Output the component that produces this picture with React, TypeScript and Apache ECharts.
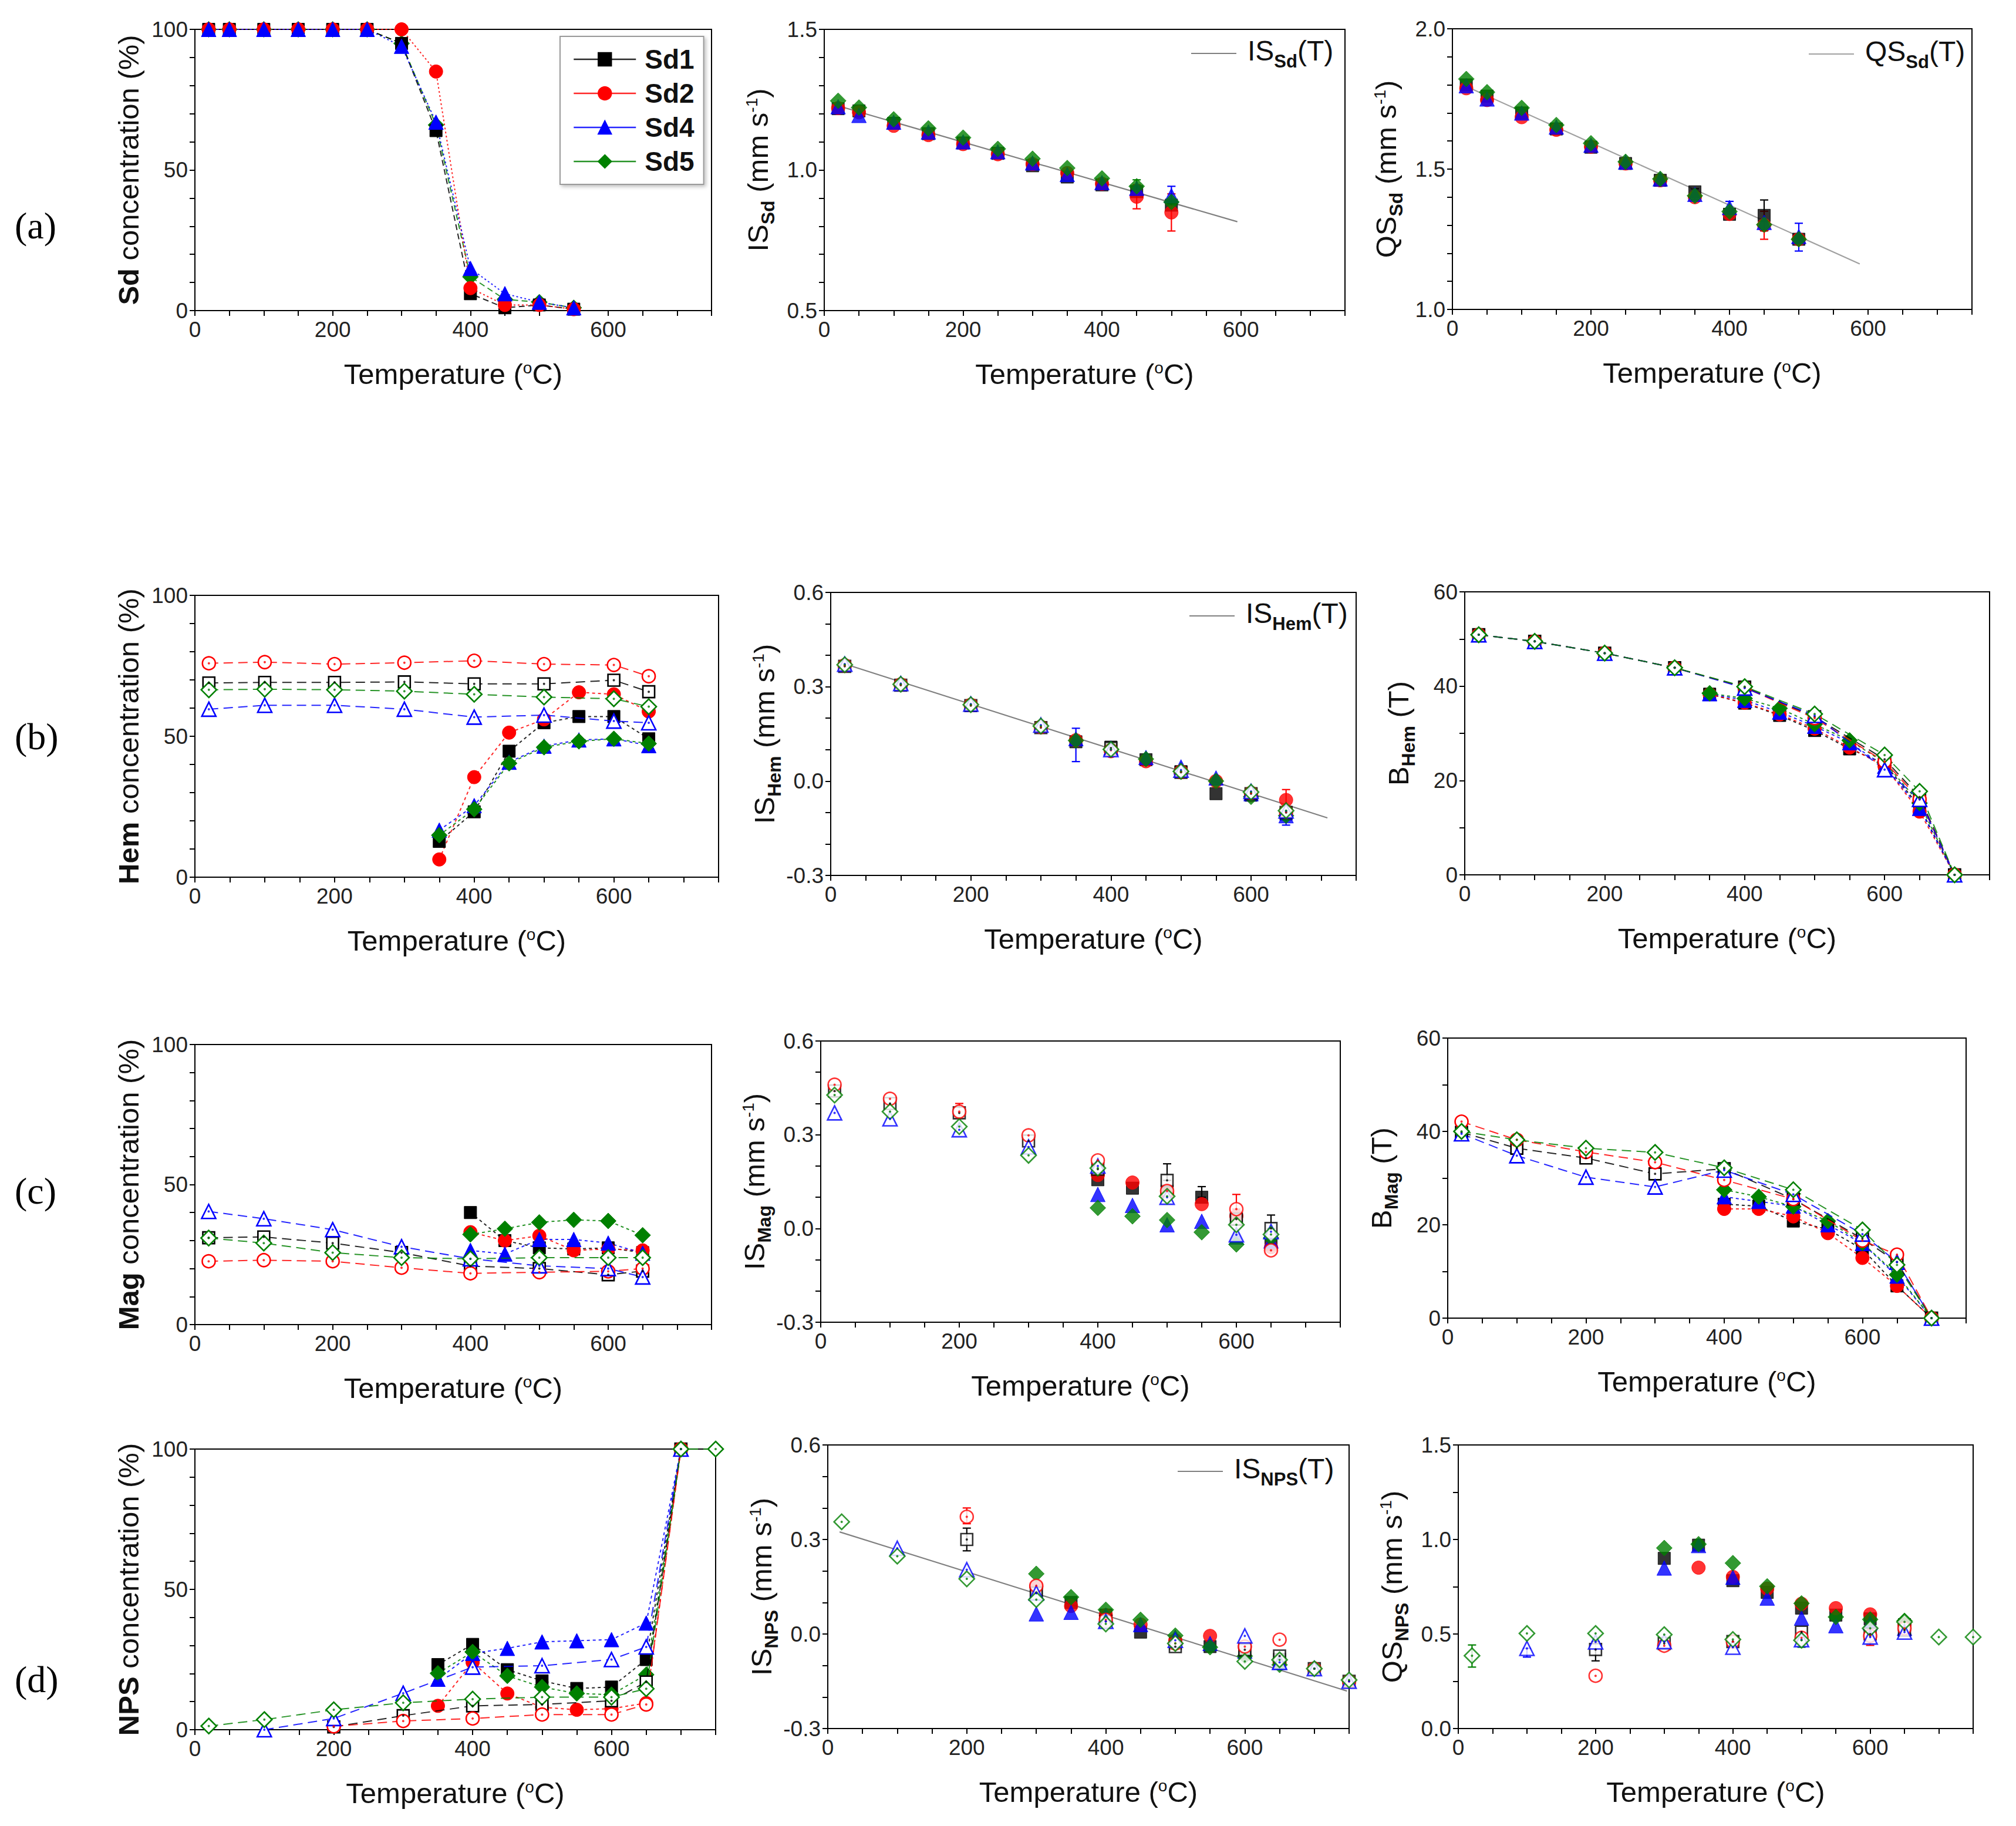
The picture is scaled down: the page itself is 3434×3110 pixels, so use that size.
import React, { useEffect, useRef } from 'react';
import * as echarts from 'echarts';

const FONT = "'Liberation Sans', Arial, Helvetica, sans-serif";
const SERIF = "'Liberation Serif', 'Times New Roman', serif";
const TXT = '#111111';

// ---------------- DATA ----------------
const SAMPLES = ['Sd1', 'Sd2', 'Sd4', 'Sd5'];

// (a) siderite
const T_A = [20, 50, 100, 150, 200, 250, 300, 350, 400, 450, 500, 550];
const T_A_MS = [20, 50, 100, 150, 200, 250, 300, 350, 400, 450, 500];
const SD_CONC_SD1 = [100, 100, 100, 100, 100, 100, 95, 64, 6, 1, 2, 0.5];
const SD_CONC_SD2 = [100, 100, 100, 100, 100, 100, 100, 85, 8, 2, 2, 0.5];
const SD_CONC_SD4 = [100, 100, 100, 100, 100, 100, 94, 67, 15, 6, 3, 1];
const SD_CONC_SD5 = [100, 100, 100, 100, 100, 100, 95, 66, 12, 4, 3, 1];

const IS_SD_SD1 = [1.218, 1.21, 1.166, 1.129, 1.096, 1.059, 1.015, 0.975, 0.947, 0.923, 0.875];
const IS_SD_SD2 = [1.22, 1.205, 1.157, 1.124, 1.092, 1.056, 1.021, 0.989, 0.951, 0.905, 0.849];
const IS_SD_SD4 = [1.225, 1.194, 1.17, 1.135, 1.1, 1.065, 1.025, 0.984, 0.955, 0.935, 0.909];
const IS_SD_SD5 = [1.246, 1.222, 1.18, 1.148, 1.115, 1.075, 1.04, 1.007, 0.97, 0.942, 0.886];
const IS_SD_FIT_T = [20, 595];
const IS_SD_FIT = [1.228, 0.816];
// error bars: [T, low, high, sample]
const IS_SD_ERR = [[450, 0.862, 0.948, 1], [500, 0.783, 0.915, 1], [500, 0.88, 0.942, 2], [450, 0.92, 0.965, 3]];

const QS_SD_SD1 = [1.8, 1.76, 1.7, 1.643, 1.578, 1.52, 1.46, 1.419, 1.339, 1.335, 1.25];
const QS_SD_SD2 = [1.788, 1.746, 1.685, 1.64, 1.58, 1.52, 1.46, 1.4, 1.34, 1.3, 1.25];
const QS_SD_SD4 = [1.797, 1.75, 1.7, 1.65, 1.585, 1.525, 1.465, 1.41, 1.363, 1.31, 1.26];
const QS_SD_SD5 = [1.821, 1.774, 1.718, 1.657, 1.592, 1.526, 1.465, 1.405, 1.349, 1.302, 1.25];
const QS_SD_FIT_T = [15, 588];
const QS_SD_FIT = [1.8, 1.162];
const QS_SD_ERR = [[450, 1.28, 1.39, 0], [450, 1.25, 1.35, 1], [500, 1.208, 1.307, 2], [400, 1.33, 1.385, 2], [350, 1.39, 1.43, 0]];

// (b) hematite
const T_OPEN = [20, 100, 200, 300, 400, 500, 600, 650];
const T_HEM_F = [350, 400, 450, 500, 550, 600, 650];
const HEM_CONC_SD1_O = [68.9, 69.1, 69.1, 69.3, 68.6, 68.6, 69.9, 65.8];
const HEM_CONC_SD2_O = [75.9, 76.3, 75.6, 76.1, 76.8, 75.6, 75.3, 71.3];
const HEM_CONC_SD4_O = [59.6, 61.0, 61.0, 59.6, 56.8, 57.5, 55.4, 54.8];
const HEM_CONC_SD5_O = [66.5, 66.7, 66.5, 66.0, 64.9, 63.9, 63.3, 60.5];
const HEM_CONC_SD1_F = [12.7, 23.2, 44.7, 54.8, 57.0, 57.0, 49.1];
const HEM_CONC_SD2_F = [6.3, 35.5, 51.3, 56.0, 65.6, 64.9, 58.8];
const HEM_CONC_SD4_F = [16.7, 25.4, 40.8, 46.5, 48.7, 49.1, 46.7];
const HEM_CONC_SD5_F = [14.9, 24.1, 40.4, 46.1, 48.2, 49.1, 47.4];

const IS_HEM_SD1_O = [0.365, 0.305, 0.24, 0.17, 0.105, 0.028, -0.04, -0.1];
const IS_HEM_SD2_O = [0.368, 0.307, 0.242, 0.172, 0.098, 0.03, -0.038, -0.098];
const IS_HEM_SD4_O = [0.372, 0.31, 0.245, 0.178, 0.1, 0.035, -0.033, -0.095];
const IS_HEM_SD5_O = [0.37, 0.308, 0.243, 0.175, 0.101, 0.031, -0.035, -0.094];
const IS_HEM_SD1_F = [0.125, 0.108, 0.068, 0.03, -0.04, -0.045, -0.105];
const IS_HEM_SD2_F = [0.13, 0.095, 0.063, 0.028, 0.0, -0.045, -0.06];
const IS_HEM_SD4_F = [0.135, 0.105, 0.075, 0.045, 0.01, -0.04, -0.11];
const IS_HEM_SD5_F = [0.129, 0.1, 0.07, 0.03, 0.0, -0.05, -0.11];
const IS_HEM_FIT_T = [18, 709];
const IS_HEM_FIT = [0.374, -0.117];
const IS_HEM_ERR = [[350, 0.062, 0.168, 2], [650, -0.085, -0.027, 1], [650, -0.14, -0.09, 2]];

const T_B_O = [20, 100, 200, 300, 400, 500, 600, 650, 700];
const T_BHEM_F = [350, 400, 450, 500, 550, 600, 650, 700];
const B_HEM_SD1_O = [50.9, 49.5, 47.0, 43.9, 39.8, 33.5, 24.5, 16.5, 0];
const B_HEM_SD2_O = [50.9, 49.5, 47.0, 43.9, 39.7, 33.2, 24.0, 16.0, 0];
const B_HEM_SD4_O = [50.9, 49.5, 47.0, 43.9, 39.6, 33.8, 22.3, 16.0, 0];
const B_HEM_SD5_O = [50.9, 49.5, 47.0, 43.9, 39.9, 34.1, 25.4, 17.7, 0];
const B_HEM_SD1_F = [38.3, 36.4, 33.8, 30.6, 26.7, 23.6, 14.4, 0];
const B_HEM_SD2_F = [38.3, 36.5, 34.0, 31.0, 27.0, 23.0, 13.4, 0];
const B_HEM_SD4_F = [38.4, 37.0, 34.5, 31.5, 28.0, 23.0, 14.1, 0];
const B_HEM_SD5_F = [38.5, 37.4, 35.3, 31.9, 28.5, 23.8, 15.2, 0];

// (c) magnetite
const T_MAG_F = [400, 450, 500, 550, 600, 650];
const MAG_CONC_SD1_O = [31.0, 31.3, 29.1, 25.7, 20.9, 20.0, 17.8, 19.1];
const MAG_CONC_SD2_O = [22.6, 23.0, 22.6, 20.3, 18.3, 18.7, 19.0, 20.0];
const MAG_CONC_SD4_O = [40.4, 37.8, 33.9, 27.8, 23.5, 21.0, 20.0, 17.0];
const MAG_CONC_SD5_O = [30.9, 29.1, 25.7, 23.9, 23.5, 23.9, 23.9, 23.9];
const MAG_CONC_SD1_F = [40.0, 30.0, 27.4, 27.0, 27.4, 25.7];
const MAG_CONC_SD2_F = [33.0, 30.0, 31.7, 26.5, 27.0, 26.5];
const MAG_CONC_SD4_F = [26.5, 25.2, 30.4, 30.4, 29.1, 25.5];
const MAG_CONC_SD5_F = [32.2, 34.2, 36.5, 37.4, 37.0, 31.9];

const IS_MAG_SD1_O = [0.44, 0.4, 0.37, 0.28, 0.19, 0.154, 0.03, 0.0];
const IS_MAG_SD2_O = [0.46, 0.415, 0.374, 0.298, 0.218, 0.12, 0.062, -0.07];
const IS_MAG_SD4_O = [0.37, 0.351, 0.316, 0.261, 0.2, 0.1, -0.02, -0.01];
const IS_MAG_SD5_O = [0.427, 0.374, 0.326, 0.234, 0.193, 0.103, 0.012, -0.019];
const IS_MAG_SD1_F = [0.156, 0.129, 0.12, 0.1, 0.03, -0.05];
const IS_MAG_SD2_F = [0.171, 0.147, 0.11, 0.078, 0.04, -0.06];
const IS_MAG_SD4_F = [0.109, 0.074, 0.012, 0.023, -0.027, -0.04];
const IS_MAG_SD5_F = [0.066, 0.039, 0.027, -0.012, -0.051, -0.03];
const IS_MAG_ERR = [[500, 0.154, 0.207, 0], [550, 0.1, 0.134, 0], [600, 0.062, 0.109, 1], [650, 0.0, 0.043, 0], [200, 0.374, 0.4, 1]];

const T_BMAG_F = [400, 450, 500, 550, 600, 650, 700];
const B_MAG_SD1_O = [39.8, 36.4, 34.3, 30.9, 32.0, 25.5, 17.0, 12.0, 0];
const B_MAG_SD2_O = [42.1, 38.2, 35.6, 33.4, 29.6, 25.5, 16.6, 13.6, 0];
const B_MAG_SD4_O = [39.5, 34.8, 30.2, 28.1, 31.7, 26.5, 18.0, 12.0, 0];
const B_MAG_SD5_O = [40.0, 38.2, 36.4, 35.5, 32.2, 27.5, 18.9, 11.4, 0];
const B_MAG_SD1_F = [24.4, 24.0, 20.8, 19.0, 14.8, 6.9, 0];
const B_MAG_SD2_F = [23.4, 23.4, 21.8, 18.2, 12.9, 6.9, 0];
const B_MAG_SD4_F = [26.0, 25.0, 24.0, 20.0, 16.0, 9.0, 0];
const B_MAG_SD5_F = [27.5, 26.0, 23.9, 20.8, 16.1, 9.3, 0];

// (d) NPS
const T_NPS_O = [20, 100, 200, 300, 400, 500, 600, 650, 700, 750];
const T_NPS_F = [350, 400, 450, 500, 550, 600, 650, 700];
const NPS_CONC_SD1_O = [null, null, 1, 5, 8.5, 9, 10.3, 17, 100, null];
const NPS_CONC_SD2_O = [null, null, 1.2, 3.1, 4, 5.4, 5.4, 9, 100, null];
const NPS_CONC_SD4_O = [null, 0, 4, 13, 22.3, 22.8, 25, 29.5, 100, null];
const NPS_CONC_SD5_O = [1.3, 3.6, 7.1, 9.6, 10.9, 11.6, 11.6, 14.6, 100, 100];
const NPS_CONC_SD1_F = [23.2, 30.4, 21.4, 17.4, 14.7, 15.2, 25, 100];
const NPS_CONC_SD2_F = [8.5, 24, 12.9, 8, 7.1, 7.5, 9.5, 100];
const NPS_CONC_SD4_F = [18, 27.2, 29, 31.3, 31.7, 32.1, 38, 100];
const NPS_CONC_SD5_F = [20.1, 27.7, 19.2, 15.2, 12.9, 12.5, 19.6, 100];

const T_NPS_MS_F = [300, 350, 400, 450, 500, 550, 600, 650];
const IS_NPS_SD1_O = [null, null, 0.3, 0.13, 0.04, -0.04, -0.05, -0.07, -0.11, -0.15];
const IS_NPS_SD2_O = [null, null, 0.372, 0.153, 0.045, -0.03, -0.04, -0.018, -0.11, -0.15];
const IS_NPS_SD4_O = [null, 0.272, 0.204, 0.13, 0.04, -0.02, -0.006, -0.09, -0.11, -0.15];
const IS_NPS_SD5_O = [0.356, 0.247, 0.175, 0.109, 0.032, -0.03, -0.087, -0.082, -0.11, -0.146];
const IS_NPS_SD1_F = [0.13, 0.1, 0.06, 0.006, -0.03, -0.04, -0.06, -0.08];
const IS_NPS_SD2_F = [0.15, 0.089, 0.06, 0.03, -0.02, -0.006, -0.04, -0.09];
const IS_NPS_SD4_F = [0.064, 0.069, 0.06, 0.03, -0.01, -0.03, -0.054, -0.09];
const IS_NPS_SD5_F = [0.191, 0.117, 0.077, 0.045, -0.005, -0.042, -0.07, -0.098];
const IS_NPS_FIT_T = [17, 747];
const IS_NPS_FIT = [0.324, -0.181];
const IS_NPS_ERR = [[200, 0.264, 0.336, 0], [200, 0.35, 0.4, 1]];

const QS_NPS_SD1_O = [null, null, 0.418, 0.45, 0.46, 0.51, 0.5, 0.52, null, null];
const QS_NPS_SD2_O = [null, null, 0.279, 0.438, 0.46, 0.48, 0.49, 0.53, null, null];
const QS_NPS_SD4_O = [null, 0.424, 0.458, 0.46, 0.43, 0.47, 0.484, 0.51, null, null];
const QS_NPS_SD5_O = [0.385, 0.503, 0.503, 0.497, 0.471, 0.467, 0.53, 0.564, 0.484, 0.484];
const QS_NPS_SD1_F = [0.9, 0.97, 0.782, 0.72, 0.637, 0.6, 0.58, 0.55];
const QS_NPS_SD2_F = [null, 0.851, 0.802, 0.74, 0.66, 0.637, 0.604, 0.55];
const QS_NPS_SD4_F = [0.849, 0.968, 0.8, 0.69, 0.584, 0.544, 0.56, 0.53];
const QS_NPS_SD5_F = [0.955, 0.975, 0.875, 0.752, 0.662, 0.59, 0.577, 0.57];
const QS_NPS_ERR = [[20, 0.325, 0.442, 3], [200, 0.358, 0.46, 0], [100, 0.378, 0.424, 2], [600, 0.44, 0.49, 1], [500, 0.43, 0.467, 3]];

// ---------------- STYLE / LAYOUT ----------------
const COLORS = ['#000000', '#ff0000', '#0000ff', '#008000'];
const SYMBOLS = ['rect', 'circle', 'triangle', 'diamond'];
const SIZES = [21, 23, 25, 27];

// [left, top, width, height]
const GRIDS = [
  [332, 50, 880, 479],
  [1404, 50, 887, 479],
  [2474, 49, 885, 478],
  [332, 1014, 892, 480],
  [1415, 1009, 895, 482],
  [2495, 1008, 894, 482],
  [332, 1779, 880, 477],
  [1398, 1773, 885, 479],
  [2466, 1768, 883, 477],
  [332, 2468, 887, 478],
  [1410, 2461, 888, 483],
  [2484, 2461, 877, 483],
];

const Y_NAMES = [
  '{b|Sd}{m| concentration (%)}',
  '{m|IS}{s|Sd}{m| (mm s}{p|-1}{m|)}',
  '{m|QS}{s|Sd}{m| (mm s}{p|-1}{m|)}',
  '{b|Hem}{m| concentration (%)}',
  '{m|IS}{s|Hem}{m| (mm s}{p|-1}{m|)}',
  '{m|B}{s|Hem}{m| (T)}',
  '{b|Mag}{m| concentration (%)}',
  '{m|IS}{s|Mag}{m| (mm s}{p|-1}{m|)}',
  '{m|B}{s|Mag}{m| (T)}',
  '{b|NPS}{m| concentration (%)}',
  '{m|IS}{s|NPS}{m| (mm s}{p|-1}{m|)}',
  '{m|QS}{s|NPS}{m| (mm s}{p|-1}{m|)}',
];

const Y_SPECS = [
  { min: 0, max: 100, interval: 10, every: 50, dec: 0 },
  { min: 0.5, max: 1.5, interval: 0.1, every: 0.5, dec: 1 },
  { min: 1.0, max: 2.0, interval: 0.1, every: 0.5, dec: 1 },
  { min: 0, max: 100, interval: 10, every: 50, dec: 0 },
  { min: -0.3, max: 0.6, interval: 0.1, every: 0.3, dec: 1 },
  { min: 0, max: 60, interval: 10, every: 20, dec: 0 },
  { min: 0, max: 100, interval: 10, every: 50, dec: 0 },
  { min: -0.3, max: 0.6, interval: 0.1, every: 0.3, dec: 1 },
  { min: 0, max: 60, interval: 10, every: 20, dec: 0 },
  { min: 0, max: 100, interval: 10, every: 50, dec: 0 },
  { min: -0.3, max: 0.6, interval: 0.1, every: 0.3, dec: 1 },
  { min: 0, max: 1.5, interval: 0.25, every: 0.5, dec: 1 },
];

const NAME_RICH = {
  m: { fontSize: 49, fontFamily: FONT, color: TXT, padding: [0, 0, 9, 0] },
  b: { fontSize: 49, fontFamily: FONT, color: TXT, fontWeight: 'bold', padding: [0, 0, 9, 0] },
  s: { fontSize: 32, fontFamily: FONT, color: TXT, fontWeight: 'bold', verticalAlign: 'bottom' },
  p: { fontSize: 28, fontFamily: FONT, color: TXT, verticalAlign: 'top' },
};
const LEG_RICH = {
  m: { fontSize: 48, fontFamily: FONT, color: TXT, padding: [0, 0, 10, 0] },
  s: { fontSize: 31, fontFamily: FONT, color: TXT, fontWeight: 'bold', verticalAlign: 'bottom' },
};
const X_RICH = {
  m: { fontSize: 49, fontFamily: FONT, color: TXT },
  p: { fontSize: 28, fontFamily: FONT, color: TXT, verticalAlign: 'top' },
};

function pts(temps: number[], vals: (number | null)[]) {
  const out: number[][] = [];
  temps.forEach((t, i) => {
    const v = vals[i];
    if (v !== null && v !== undefined) out.push([t, v]);
  });
  return out;
}

function mkSeries(
  name: string,
  gi: number,
  kind: 'line' | 'scatter',
  temps: number[],
  vals: (number | null)[],
  s: number,
  open: boolean,
  dash: number[] | string,
) {
  const itemStyle = open
    ? { color: '#ffffff', borderColor: COLORS[s], borderWidth: 2.6 }
    : { color: COLORS[s], borderColor: COLORS[s], borderWidth: 1 };
  const base: any = {
    type: kind,
    name,
    xAxisIndex: gi,
    yAxisIndex: gi,
    data: pts(temps, vals),
    symbol: SYMBOLS[s],
    symbolSize: open ? SIZES[s] - 1 : SIZES[s],
    itemStyle,
    z: open ? 4 : 3,
    animation: false,
  };
  if (kind === 'line') {
    base.lineStyle = { color: COLORS[s], width: 2, type: dash, opacity: 0.85 };
    base.showSymbol = true;
  }
  return base;
}

function dotSeries(gi: number, temps: number[], vals: (number | null)[], s: number) {
  return {
    type: 'scatter',
    name: 'dot-' + gi + '-' + s,
    xAxisIndex: gi,
    yAxisIndex: gi,
    data: pts(temps, vals),
    symbol: 'circle',
    symbolSize: 4,
    itemStyle: { color: COLORS[s] },
    z: 5,
    silent: true,
    animation: false,
  };
}

function fitSeries(name: string, gi: number, temps: number[], vals: number[], color: string) {
  return {
    type: 'line',
    name,
    color,
    xAxisIndex: gi,
    yAxisIndex: gi,
    data: pts(temps, vals),
    symbol: 'none',
    itemStyle: { color },
    lineStyle: { color, width: 2.2 },
    z: 2,
    animation: false,
  };
}

function errSeries(gi: number, bars: number[][]) {
  return {
    type: 'custom',
    name: 'err-' + gi,
    xAxisIndex: gi,
    yAxisIndex: gi,
    data: bars,
    z: 1,
    silent: true,
    animation: false,
    renderItem: (params: any, api: any) => {
      const x = api.value(0);
      const p1 = api.coord([x, api.value(1)]);
      const p2 = api.coord([x, api.value(2)]);
      const c = COLORS[api.value(3)];
      const st = { stroke: c, lineWidth: 2.2 };
      return {
        type: 'group',
        children: [
          { type: 'line', shape: { x1: p1[0], y1: p1[1], x2: p2[0], y2: p2[1] }, style: st },
          { type: 'line', shape: { x1: p1[0] - 7, y1: p1[1], x2: p1[0] + 7, y2: p1[1] }, style: st },
          { type: 'line', shape: { x1: p2[0] - 7, y1: p2[1], x2: p2[0] + 7, y2: p2[1] }, style: st },
        ],
      };
    },
  };
}

const OPEN_DASH = [16, 9];
const FILL_DASH = [5, 5];

function buildSeries() {
  const S: any[] = [];
  // a1
  const a1 = [SD_CONC_SD1, SD_CONC_SD2, SD_CONC_SD4, SD_CONC_SD5];
  const a1Dash = [[10, 6], [3, 4], [3, 4], [10, 6]];
  [3, 0, 1, 2].forEach((s) => S.push(mkSeries(SAMPLES[s], 0, 'line', T_A, a1[s], s, false, a1Dash[s])));
  // a2
  S.push(fitSeries('fitA2', 1, IS_SD_FIT_T, IS_SD_FIT, '#808080'));
  S.push(errSeries(1, IS_SD_ERR));
  [IS_SD_SD1, IS_SD_SD2, IS_SD_SD4, IS_SD_SD5].forEach((v, s) => S.push(mkSeries('a2-' + SAMPLES[s], 1, 'scatter', T_A_MS, v, s, false, 'solid')));
  // a3
  S.push(fitSeries('fitA3', 2, QS_SD_FIT_T, QS_SD_FIT, '#a0a0a0'));
  S.push(errSeries(2, QS_SD_ERR));
  [QS_SD_SD1, QS_SD_SD2, QS_SD_SD4, QS_SD_SD5].forEach((v, s) => S.push(mkSeries('a3-' + SAMPLES[s], 2, 'scatter', T_A_MS, v, s, false, 'solid')));

  const panel = (gi: number, kind: 'line' | 'scatter', tO: number[], opens: any[], tF: number[], fills: any[]) => {
    fills.forEach((v, s) => S.push(mkSeries('p' + gi + '-' + SAMPLES[s] + '-f', gi, kind, tF, v, s, false, FILL_DASH)));
    opens.forEach((v, s) => {
      S.push(mkSeries('p' + gi + '-' + SAMPLES[s] + '-o', gi, kind, tO, v, s, true, OPEN_DASH));
      S.push(dotSeries(gi, tO, v, s));
    });
  };
  // b
  panel(3, 'line', T_OPEN, [HEM_CONC_SD1_O, HEM_CONC_SD2_O, HEM_CONC_SD4_O, HEM_CONC_SD5_O], T_HEM_F, [HEM_CONC_SD1_F, HEM_CONC_SD2_F, HEM_CONC_SD4_F, HEM_CONC_SD5_F]);
  S.push(fitSeries('fitB2', 4, IS_HEM_FIT_T, IS_HEM_FIT, '#808080'));
  S.push(errSeries(4, IS_HEM_ERR));
  panel(4, 'scatter', T_OPEN, [IS_HEM_SD1_O, IS_HEM_SD2_O, IS_HEM_SD4_O, IS_HEM_SD5_O], T_HEM_F, [IS_HEM_SD1_F, IS_HEM_SD2_F, IS_HEM_SD4_F, IS_HEM_SD5_F]);
  panel(5, 'line', T_B_O, [B_HEM_SD1_O, B_HEM_SD2_O, B_HEM_SD4_O, B_HEM_SD5_O], T_BHEM_F, [B_HEM_SD1_F, B_HEM_SD2_F, B_HEM_SD4_F, B_HEM_SD5_F]);
  // c
  panel(6, 'line', T_OPEN, [MAG_CONC_SD1_O, MAG_CONC_SD2_O, MAG_CONC_SD4_O, MAG_CONC_SD5_O], T_MAG_F, [MAG_CONC_SD1_F, MAG_CONC_SD2_F, MAG_CONC_SD4_F, MAG_CONC_SD5_F]);
  S.push(errSeries(7, IS_MAG_ERR));
  panel(7, 'scatter', T_OPEN, [IS_MAG_SD1_O, IS_MAG_SD2_O, IS_MAG_SD4_O, IS_MAG_SD5_O], T_MAG_F, [IS_MAG_SD1_F, IS_MAG_SD2_F, IS_MAG_SD4_F, IS_MAG_SD5_F]);
  panel(8, 'line', T_B_O, [B_MAG_SD1_O, B_MAG_SD2_O, B_MAG_SD4_O, B_MAG_SD5_O], T_BMAG_F, [B_MAG_SD1_F, B_MAG_SD2_F, B_MAG_SD4_F, B_MAG_SD5_F]);
  // d
  panel(9, 'line', T_NPS_O, [NPS_CONC_SD1_O, NPS_CONC_SD2_O, NPS_CONC_SD4_O, NPS_CONC_SD5_O], T_NPS_F, [NPS_CONC_SD1_F, NPS_CONC_SD2_F, NPS_CONC_SD4_F, NPS_CONC_SD5_F]);
  S.push(fitSeries('fitD2', 10, IS_NPS_FIT_T, IS_NPS_FIT, '#808080'));
  S.push(errSeries(10, IS_NPS_ERR));
  panel(10, 'scatter', T_NPS_O, [IS_NPS_SD1_O, IS_NPS_SD2_O, IS_NPS_SD4_O, IS_NPS_SD5_O], T_NPS_MS_F, [IS_NPS_SD1_F, IS_NPS_SD2_F, IS_NPS_SD4_F, IS_NPS_SD5_F]);
  S.push(errSeries(11, QS_NPS_ERR));
  panel(11, 'scatter', T_NPS_O, [QS_NPS_SD1_O, QS_NPS_SD2_O, QS_NPS_SD4_O, QS_NPS_SD5_O], T_NPS_MS_F, [QS_NPS_SD1_F, QS_NPS_SD2_F, QS_NPS_SD4_F, QS_NPS_SD5_F]);
  return S;
}

function fitLegend(name: string, left: number, top: number, label: string, sub: string) {
  return {
    left,
    top,
    padding: 0,
    data: [name],
    icon: 'rect',
    itemWidth: 77,
    itemHeight: 2.2,
    selectedMode: false,
    formatter: () => '{m|' + label + '}{s|' + sub + '}{m|(T)}',
    textStyle: { padding: [0, 0, 0, 14], rich: LEG_RICH },
  };
}

function buildOption() {
  const grid = GRIDS.map(([l, t, w, h]) => ({
    left: l, top: t, width: w, height: h,
    show: true, borderColor: '#000', borderWidth: 2, backgroundColor: 'transparent',
  }));
  const xAxis = GRIDS.map((_, i) => ({
    gridIndex: i,
    type: 'value',
    min: 0,
    max: 750,
    interval: 50,
    axisLine: { show: true, onZero: false, lineStyle: { color: '#000', width: 2 } },
    axisTick: { show: true, inside: false, length: 9, lineStyle: { color: '#000', width: 2 } },
    axisLabel: {
      fontSize: 37, fontFamily: FONT, color: '#222', margin: 14,
      formatter: (v: number) => (Math.round(v) % 200 === 0 ? String(Math.round(v)) : ''),
    },
    splitLine: { show: false },
    name: '{m|Temperature (}{p|o}{m|C)}',
    nameLocation: 'middle',
    nameGap: 83,
    nameTextStyle: { rich: X_RICH },
  }));
  const yAxis = Y_SPECS.map((sp, i) => ({
    gridIndex: i,
    type: 'value',
    min: sp.min,
    max: sp.max,
    interval: sp.interval,
    axisLine: { show: true, onZero: false, lineStyle: { color: '#000', width: 2 } },
    axisTick: { show: true, inside: false, length: 9, lineStyle: { color: '#000', width: 2 } },
    axisLabel: {
      fontSize: 37, fontFamily: FONT, color: '#222', margin: 12,
      formatter: (v: number) => {
        const r = v / sp.every;
        if (Math.abs(r - Math.round(r)) > 1e-6) return '';
        if (Math.abs(v) < 1e-9) return (0).toFixed(sp.dec);
        return v.toFixed(sp.dec);
      },
    },
    splitLine: { show: false },
    name: Y_NAMES[i],
    nameLocation: 'middle',
    nameRotate: 90,
    nameGap: 80,
    nameTextStyle: { rich: NAME_RICH },
  }));

  const legend = [
    {
      left: 954,
      top: 62,
      orient: 'vertical',
      data: SAMPLES,
      selectedMode: false,
      itemWidth: 106,
      itemHeight: 28,
      itemGap: 12,
      padding: [16, 16, 16, 22],
      borderColor: '#9a9a9a',
      borderWidth: 2,
      backgroundColor: '#ffffff',
      shadowColor: 'rgba(0,0,0,0.25)',
      shadowBlur: 6,
      shadowOffsetX: 3,
      shadowOffsetY: 3,
      lineStyle: { type: 'solid', width: 2.5 },
      textStyle: { fontSize: 46, fontWeight: 'bold', fontFamily: FONT, color: TXT, padding: [0, 0, 0, 10] },
    },
    fitLegend('fitA2', 2029, 62, 'IS', 'Sd'),
    fitLegend('fitA3', 3081, 63, 'QS', 'Sd'),
    fitLegend('fitB2', 2026, 1020, 'IS', 'Hem'),
    fitLegend('fitD2', 2006, 2477, 'IS', 'NPS'),
  ];

  const labels = [
    ['(a)', 352],
    ['(b)', 1222],
    ['(c)', 1996],
    ['(d)', 2828],
  ].map(([t, y]) => ({
    type: 'text',
    x: 25,
    y: y as number,
    style: { text: t as string, fontSize: 64, fontFamily: SERIF, fill: '#000' },
  }));

  return {
    animation: false,
    backgroundColor: '#ffffff',
    grid,
    xAxis,
    yAxis,
    legend,
    graphic: labels,
    series: buildSeries(),
  };
}

export default function App() {
  const ref = useRef<HTMLDivElement>(null);
  useEffect(() => {
    if (!ref.current) return;
    const chart = echarts.init(ref.current, null, { renderer: 'svg' });
    chart.setOption(buildOption() as any);
    return () => chart.dispose();
  }, []);
  return (
    <div
      ref={ref}
      style={{ position: 'absolute', left: 0, top: 0, width: 3434, height: 3110, background: '#fff' }}
    />
  );
}
